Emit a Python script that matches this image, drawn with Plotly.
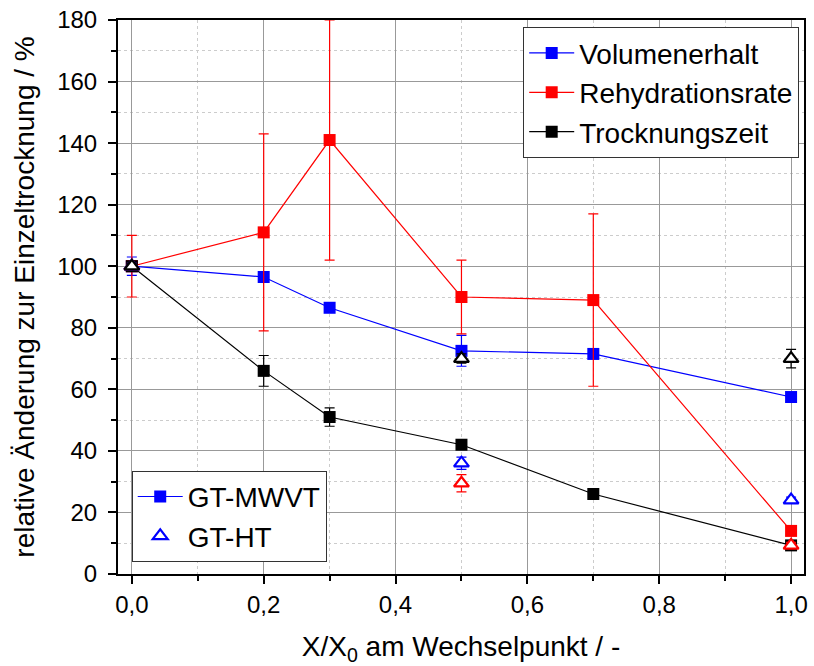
import plotly.graph_objects as go

# ---- data ----
x_main = [0.0, 0.2, 0.3, 0.5, 0.7, 1.0]
vol = [100, 96.5, 86.5, 72.5, 71.5, 57.5]
vol_err = [3, 1, 0.8, 5, 1, 1]
reh = [100, 111, 141, 90, 89, 14]
reh_err = [10, 32, 39, 12, 28, 1]
tro = [100, 66, 51, 42, 26, 9.3]
tro_err = [1, 5, 3, 1, 0.8, 0.8]

x_ht = [0.0, 0.5, 1.0]
vol_ht = [100, 36, 24]
vol_ht_err = [1, 2, 1]
reh_ht = [100, 29.5, 9.3]
reh_ht_err = [1, 2.8, 1]
tro_ht = [100, 70, 70]
tro_ht_err = [1, 1.5, 3]

BLUE = "#0000ff"
RED = "#ff0000"
BLACK = "#000000"
FONT = "Liberation Sans, Arial, sans-serif"

fig = go.Figure()

def main_trace(y, err, color, name):
    return go.Scatter(
        x=x_main, y=y, name=name, mode="lines+markers",
        line=dict(color=color, width=1.2),
        marker=dict(symbol="square", size=12, color=color),
        error_y=dict(type="data", array=err, color=color, thickness=1.2, width=5),
        legend="legend",
    )

fig.add_trace(main_trace(vol, vol_err, BLUE, "Volumenerhalt"))
fig.add_trace(main_trace(reh, reh_err, RED, "Rehydrationsrate"))
fig.add_trace(main_trace(tro, tro_err, BLACK, "Trocknungszeit"))

def ht_trace(y, err, color, name):
    return go.Scatter(
        x=x_ht, y=y, name=name, mode="markers", showlegend=False,
        marker=dict(symbol="triangle-up", size=13, color="white",
                    line=dict(width=2.2, color=color)),
        error_y=dict(type="data", array=err, color=color, thickness=1.2, width=5),
    )

fig.add_trace(ht_trace(reh_ht, reh_ht_err, RED, "HT Rehydrationsrate"))
fig.add_trace(ht_trace(vol_ht, vol_ht_err, BLUE, "HT Volumenerhalt"))
fig.add_trace(ht_trace(tro_ht, tro_ht_err, BLACK, "HT Trocknungszeit"))

# second legend (style legend)
fig.add_trace(go.Scatter(
    x=[None], y=[None], name="GT-MWVT", mode="lines+markers",
    line=dict(color=BLUE, width=1.2),
    marker=dict(symbol="square", size=12, color=BLUE), legend="legend2"))
fig.add_trace(go.Scatter(
    x=[None], y=[None], name="GT-HT", mode="markers",
    marker=dict(symbol="triangle-up-open", size=13, color=BLUE,
                line=dict(width=2.2, color=BLUE)), legend="legend2"))

fig.update_layout(
    width=814, height=666,
    margin=dict(l=118, r=6, t=18, b=92),
    paper_bgcolor="white", plot_bgcolor="white",
    separators=",.",
    font=dict(family=FONT, color="black", size=24),
    legend=dict(
        x=0.993, y=0.987, xanchor="right", yanchor="top",
        bgcolor="white", bordercolor="#333333", borderwidth=1,
        font=dict(size=28), itemwidth=45, tracegroupgap=0,
    ),
    legend2=dict(
        x=0.02, y=0.022, xanchor="left", yanchor="bottom",
        bgcolor="white", bordercolor="#333333", borderwidth=1,
        font=dict(size=28), itemwidth=45,
    ),
)

fig.update_xaxes(
    range=[-0.021, 1.0196], tickvals=[0, 0.2, 0.4, 0.6, 0.8, 1.0], tickformat=".1f",
    showline=True, linecolor="black", linewidth=2, mirror=True,
    ticks="outside", ticklen=8, tickwidth=2, tickcolor="black",
    showgrid=True, gridcolor="#999999", gridwidth=1, zeroline=False,
    minor=dict(dtick=0.1, ticks="outside", ticklen=5, tickwidth=2, tickcolor="black",
               showgrid=True, gridcolor="#cccccc", griddash="dot", gridwidth=1),
    title=dict(text="X/X<sub>0</sub> am Wechselpunkt / -", font=dict(size=28), standoff=20),
    tickfont=dict(size=24),
)
fig.update_yaxes(
    range=[0, 180], dtick=20,
    showline=True, linecolor="black", linewidth=2, mirror=True,
    ticks="outside", ticklen=8, tickwidth=2, tickcolor="black",
    showgrid=True, gridcolor="#999999", gridwidth=1, zeroline=False,
    minor=dict(dtick=10, ticks="outside", ticklen=5, tickwidth=2, tickcolor="black",
               showgrid=True, gridcolor="#cccccc", griddash="dot", gridwidth=1),
    title=dict(text="relative Änderung zur Einzeltrocknung / %", font=dict(size=28), standoff=14),
    tickfont=dict(size=24), ticklabelstandoff=6,
)

fig.write_html("out.html")
